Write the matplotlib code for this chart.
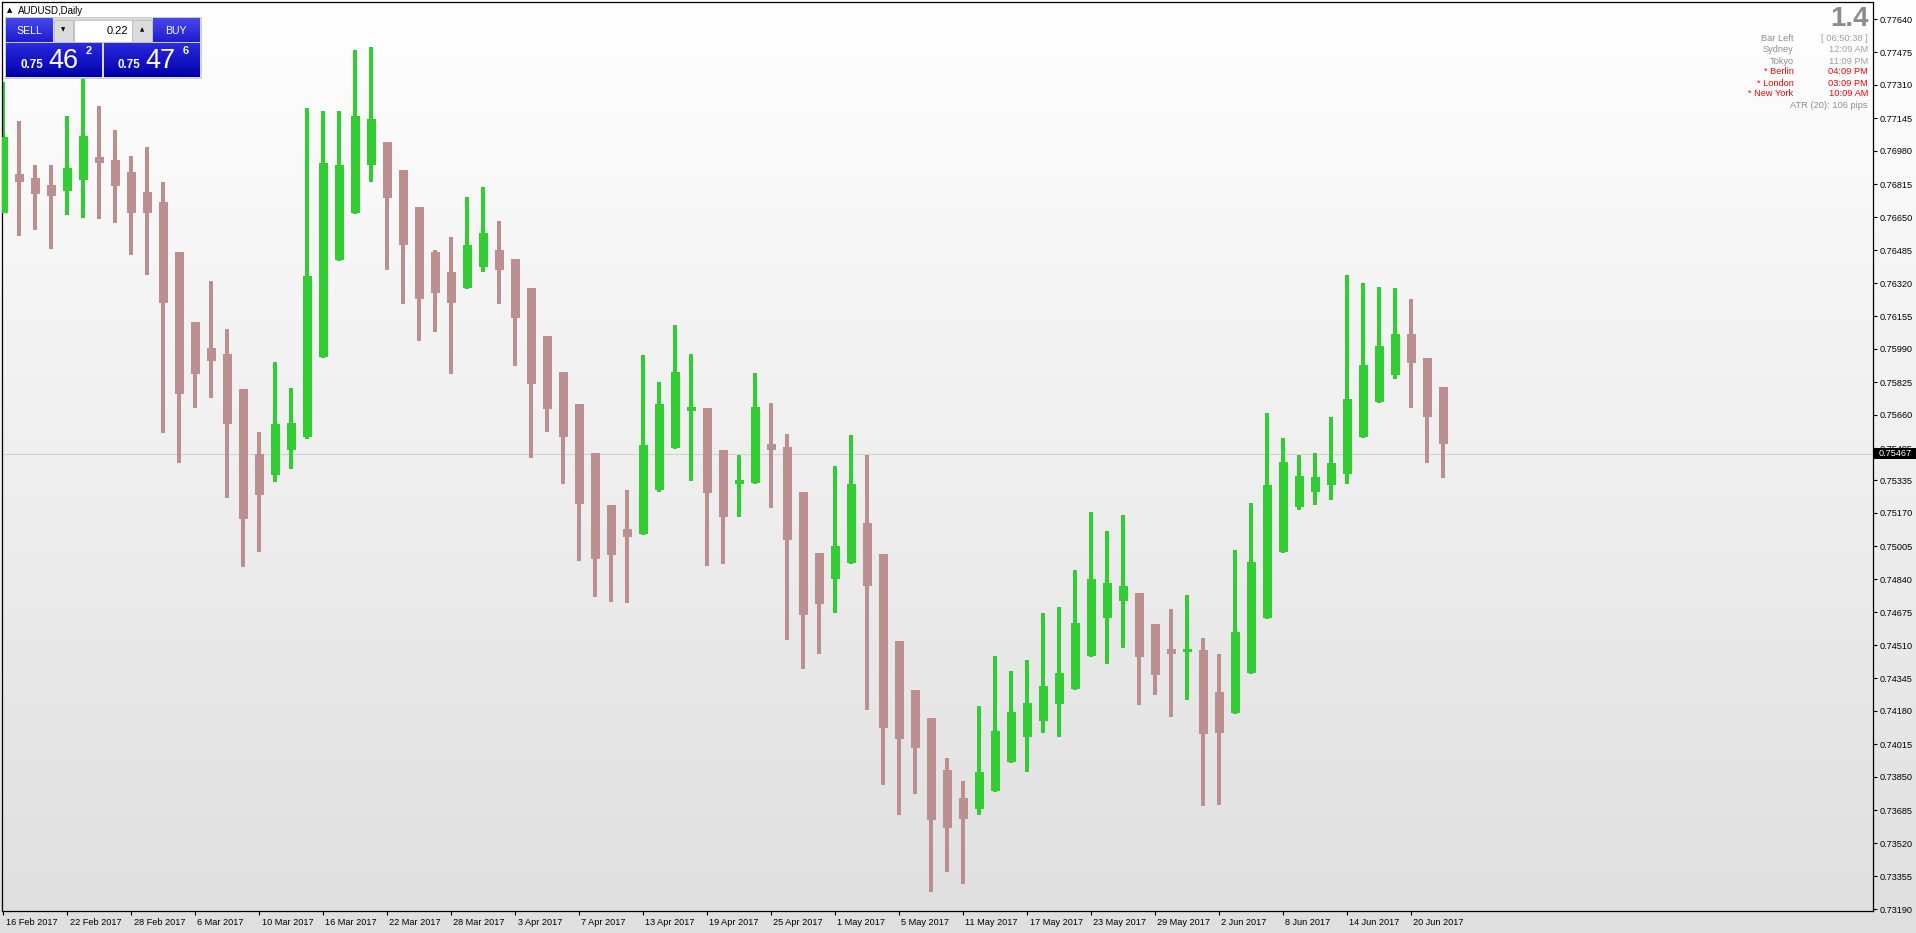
import numpy as np
import matplotlib
matplotlib.use("Agg")
import matplotlib.pyplot as plt
from matplotlib.patches import Rectangle
import matplotlib.transforms as mtransforms

# ---------------- data ----------------
symbol_title = "AUDUSD,Daily"

opens = [0.76670, 0.76865, 0.76845, 0.76810, 0.76780, 0.76835, 0.76950, 0.76935, 0.76875, 0.76775,
         0.76725, 0.76475, 0.76125, 0.75995, 0.75965, 0.75790, 0.75465, 0.75360, 0.75485, 0.75550,
         0.75950, 0.76435, 0.76670, 0.76910, 0.77025, 0.76885, 0.76700, 0.76475, 0.76375, 0.76295,
         0.76400, 0.76485, 0.76440, 0.76295, 0.76055, 0.75875, 0.75715, 0.75470, 0.75210, 0.75090,
         0.75065, 0.75285, 0.75495, 0.75680, 0.75695, 0.75485, 0.75315, 0.75320, 0.75515, 0.75500,
         0.75275, 0.74970, 0.74840, 0.74920, 0.75120, 0.74965, 0.74530, 0.74285, 0.74145, 0.73885,
         0.73745, 0.73690, 0.73780, 0.73925, 0.74050, 0.74130, 0.74215, 0.74290, 0.74455, 0.74645,
         0.74730, 0.74770, 0.74615, 0.74490, 0.74475, 0.74485, 0.74275, 0.74170, 0.74370, 0.74645,
         0.74975, 0.75200, 0.75275, 0.75310, 0.75365, 0.75550, 0.75725, 0.75860, 0.76065, 0.75945,
         0.75800]
highs = [0.77325, 0.77130, 0.76910, 0.76910, 0.77155, 0.77375, 0.77205, 0.77085, 0.76955, 0.77000,
         0.76825, 0.76475, 0.76125, 0.76330, 0.76090, 0.75790, 0.75575, 0.75925, 0.75795, 0.77195,
         0.77180, 0.77180, 0.77485, 0.77500, 0.77025, 0.76885, 0.76700, 0.76485, 0.76550, 0.76750,
         0.76800, 0.76630, 0.76440, 0.76295, 0.76055, 0.75875, 0.75715, 0.75470, 0.75210, 0.75285,
         0.75960, 0.75825, 0.76110, 0.75965, 0.75695, 0.75485, 0.75460, 0.75870, 0.75720, 0.75565,
         0.75275, 0.74970, 0.75405, 0.75560, 0.75460, 0.74965, 0.74530, 0.74285, 0.74145, 0.73945,
         0.73830, 0.74205, 0.74455, 0.74380, 0.74435, 0.74670, 0.74700, 0.74885, 0.75175, 0.75080,
         0.75160, 0.74770, 0.74615, 0.74690, 0.74760, 0.74545, 0.74465, 0.74985, 0.75220, 0.75670,
         0.75545, 0.75460, 0.75470, 0.75650, 0.76360, 0.76320, 0.76300, 0.76295, 0.76240, 0.75945,
         0.75800]
lows = [0.76670, 0.76555, 0.76585, 0.76490, 0.76660, 0.76645, 0.76640, 0.76620, 0.76460, 0.76360,
        0.75570, 0.75420, 0.75695, 0.75745, 0.75245, 0.74900, 0.74975, 0.75325, 0.75390, 0.75540,
        0.75945, 0.76430, 0.76665, 0.76825, 0.76385, 0.76215, 0.76030, 0.76075, 0.75865, 0.76290,
        0.76375, 0.76215, 0.75905, 0.75445, 0.75575, 0.75315, 0.74930, 0.74750, 0.74725, 0.74720,
        0.75060, 0.75275, 0.75490, 0.75330, 0.74905, 0.74915, 0.75150, 0.75315, 0.75195, 0.74535,
        0.74390, 0.74465, 0.74670, 0.74915, 0.74185, 0.73810, 0.73660, 0.73765, 0.73275, 0.73375,
        0.73315, 0.73660, 0.73775, 0.73920, 0.73875, 0.74070, 0.74050, 0.74285, 0.74450, 0.74415,
        0.74495, 0.74210, 0.74260, 0.74150, 0.74235, 0.73705, 0.73710, 0.74165, 0.74365, 0.74640,
        0.74970, 0.75185, 0.75210, 0.75235, 0.75315, 0.75545, 0.75720, 0.75840, 0.75695, 0.75420,
        0.75345]
closes = [0.77050, 0.76825, 0.76765, 0.76755, 0.76895, 0.77055, 0.76920, 0.76805, 0.76670, 0.76670,
          0.76220, 0.75765, 0.75865, 0.75930, 0.75615, 0.75140, 0.75260, 0.75615, 0.75620, 0.76355,
          0.76920, 0.76910, 0.77155, 0.77140, 0.76745, 0.76510, 0.76240, 0.76270, 0.76220, 0.76510,
          0.76570, 0.76385, 0.76145, 0.75815, 0.75690, 0.75550, 0.75215, 0.74940, 0.74960, 0.75050,
          0.75510, 0.75715, 0.75875, 0.75700, 0.75270, 0.75150, 0.75335, 0.75700, 0.75485, 0.75035,
          0.74660, 0.74715, 0.75005, 0.75315, 0.74805, 0.74095, 0.74040, 0.73995, 0.73635, 0.73595,
          0.73640, 0.73875, 0.74080, 0.74175, 0.74220, 0.74305, 0.74370, 0.74620, 0.74840, 0.74820,
          0.74805, 0.74450, 0.74360, 0.74465, 0.74490, 0.74065, 0.74070, 0.74575, 0.74925, 0.75310,
          0.75425, 0.75355, 0.75350, 0.75420, 0.75740, 0.75910, 0.76005, 0.76065, 0.75920, 0.75650,
          0.75515]

date_labels = ["16 Feb 2017", "22 Feb 2017", "28 Feb 2017", "6 Mar 2017", "10 Mar 2017",
               "16 Mar 2017", "22 Mar 2017", "28 Mar 2017", "3 Apr 2017", "7 Apr 2017",
               "13 Apr 2017", "19 Apr 2017", "25 Apr 2017", "1 May 2017", "5 May 2017",
               "11 May 2017", "17 May 2017", "23 May 2017", "29 May 2017", "2 Jun 2017",
               "8 Jun 2017", "14 Jun 2017", "20 Jun 2017"]
date_label_bars = [0, 4, 8, 12, 16, 20, 24, 28, 32, 36, 40, 44, 48, 52, 56, 60, 64, 68, 72, 76, 80, 84, 88]

price_ticks = [0.77640, 0.77475, 0.77310, 0.77145, 0.76980, 0.76815, 0.76650, 0.76485, 0.76320,
               0.76155, 0.75990, 0.75825, 0.75660, 0.75495, 0.75335, 0.75170, 0.75005, 0.74840,
               0.74675, 0.74510, 0.74345, 0.74180, 0.74015, 0.73850, 0.73685, 0.73520, 0.73355,
               0.73190]

bid_price = 0.75467
lot_value = "0.22"
sell_quote = ["0.75", "46", "2"]
buy_quote = ["0.75", "47", "6"]
info_big = "1.4"
info_labels = ["Bar Left", "Sydney", "Tokyo", "* Berlin", "* London", "* New York"]
info_values = ["[ 06:50:38 ]", "12:09 AM", "11:09 PM", "04:09 PM", "03:09 PM", "10:09 AM"]
info_red = [False, False, False, True, True, True]
atr_text = "ATR (20): 106 pips"

# ---------------- figure ----------------
W, H, DPI = 1916, 933, 100
BULL = "#32CD32"
BEAR = "#BC8F8F"
FONT = ["Liberation Sans", "DejaVu Sans"]
plt.rcParams["font.family"] = FONT

fig = plt.figure(figsize=(W / DPI, H / DPI), dpi=DPI)

# background gradient for whole window
ax_bg = fig.add_axes([0, 0, 1, 1], zorder=-5)
grad = np.linspace(255, 223, 256)[:, None] / 255.0
ax_bg.imshow(np.dstack([grad, grad, grad]), aspect="auto", extent=(0, 1, 0, 1), origin="upper")
ax_bg.set_xlim(0, 1)
ax_bg.set_ylim(0, 1)
ax_bg.axis("off")

# main chart axes (pixel box: x 2..1873, y 2..911)
L, R, T, B = 2, 1873, 2, 911
ax = fig.add_axes([L / W, (H - B) / H, (R - L) / W, (B - T) / H], zorder=1)
ax.patch.set_alpha(0)
PX = 16.0          # pixels per bar
X0 = 3.5           # pixel centre of first bar
ax.set_xlim((L - X0) / PX, (R - X0) / PX)
PPX = 0.00005      # price per pixel
top_price = 0.77725
ax.set_ylim(top_price - (B - T) * PPX, top_price)

# bid line
ax.axhline(bid_price, color="#D2D2D2", lw=0.8, zorder=1)

body_w = 9.0 / PX
for i, (o, h, l, c) in enumerate(zip(opens, highs, lows, closes)):
    col = BULL if c > o else BEAR
    ax.vlines(i, l, h, color=col, lw=1.5, zorder=2, antialiased=False)
    lo_ = min(o, c)
    hgt = max(abs(c - o), PPX)
    ax.add_patch(Rectangle((i - body_w / 2, lo_), body_w, hgt, facecolor=col,
                           edgecolor="none", zorder=3, antialiased=False))

for s in ax.spines.values():
    s.set_color("black")
    s.set_linewidth(0.9)

ax.yaxis.tick_right()
ax.set_yticks(price_ticks)
ax.set_yticklabels([f"{p:.5f}" for p in price_ticks])
ax.tick_params(axis="y", direction="out", length=3, width=0.8, pad=1.5,
               labelsize=6.6, colors="black")
ax.set_xticks(date_label_bars)
ax.set_xticklabels(date_labels)
ax.tick_params(axis="x", direction="out", length=3, width=0.8, pad=1.8,
               labelsize=6.6, colors="black")
offset = mtransforms.ScaledTranslation(2 / DPI, 0, fig.dpi_scale_trans)
for lab in ax.get_xticklabels():
    lab.set_horizontalalignment("left")
    lab.set_transform(lab.get_transform() + offset)

# ---------------- overlay (pixel coordinates) ----------------
ov = fig.add_axes([0, 0, 1, 1], zorder=10)
ov.patch.set_alpha(0)


def vgrad(x0, y0, x1, y1, ctop, cbot):
    ctop = np.array(matplotlib.colors.to_rgb(ctop))
    cbot = np.array(matplotlib.colors.to_rgb(cbot))
    t = np.linspace(0, 1, 64)[:, None]
    img = (ctop[None, :] * (1 - t) + cbot[None, :] * t)[:, None, :]
    ov.imshow(img, extent=(x0, x1, y1, y0), origin="upper", aspect="auto",
              interpolation="bilinear", zorder=2)


# title
ov.text(6.5, 10.5, "\u25B2", fontsize=5, color="black", va="center", ha="left",
        family=["DejaVu Sans"])
ov.text(18, 10.5, symbol_title, fontsize=7, color="black", va="center", ha="left")

# one-click trading panel
ov.add_patch(Rectangle((5, 17), 196, 61, facecolor="#D9D9D9", edgecolor="#C8C8C8", lw=0.6, zorder=1))
vgrad(6, 19, 52.5, 42.5, "#4848EE", "#1C1CD0")
vgrad(153, 19, 199.5, 42.5, "#4848EE", "#1C1CD0")
vgrad(6, 43, 102, 77, "#2A2AE0", "#0000A8")
vgrad(104, 43, 199.5, 77, "#2A2AE0", "#0000A8")
ov.add_patch(Rectangle((54, 20), 19.5, 21.5, facecolor="#DCDCDC", edgecolor="#BDBDBD", lw=0.6, zorder=3))
ov.add_patch(Rectangle((74, 20), 58, 21.5, facecolor="white", edgecolor="#BDBDBD", lw=0.6, zorder=3))
ov.add_patch(Rectangle((132, 20), 20, 21.5, facecolor="#DCDCDC", edgecolor="#BDBDBD", lw=0.6, zorder=3))
ov.text(63.5, 29.5, "\u25BC", fontsize=4, color="black", ha="center", va="center",
        family=["DejaVu Sans"], zorder=4)
ov.text(142, 29.5, "\u25B2", fontsize=4, color="black", ha="center", va="center",
        family=["DejaVu Sans"], zorder=4)
ov.text(128, 30.5, lot_value, fontsize=8, color="black", ha="right", va="center", zorder=4)
ov.text(29, 31, "SELL", fontsize=7.6, color="white", ha="center", va="center", zorder=4)
ov.text(175.5, 31, "BUY", fontsize=7.6, color="white", ha="center", va="center", zorder=4)
ov.plot([10, 48], [41.5, 41.5], color="#C8C8FF", lw=0.7, zorder=4)
ov.plot([157, 195], [41.5, 41.5], color="#C8C8FF", lw=0.7, zorder=4)

for (x_small, x_big, x_sup), q in zip([(20.5, 48.5, 85.5), (118, 145.5, 182.5)], [sell_quote, buy_quote]):
    ov.text(x_small, 65.5, q[0], fontsize=8.4, fontweight="bold", color="white",
            ha="left", va="center", zorder=4)
    ov.text(x_big, 60.5, q[1], fontsize=19.5, color="white", ha="left", va="center", zorder=4)
    ov.text(x_sup, 51, q[2], fontsize=7.8, fontweight="bold", color="white",
            ha="left", va="center", zorder=4)

# info block top right
ov.text(1868.5, 18.5, info_big, fontsize=20, fontweight="bold", color="#8C8C8C",
        ha="right", va="center")
ys = [38.7, 50.0, 61.0, 72.0, 83.0, 94.0]
for y, lab, val, red in zip(ys, info_labels, info_values, info_red):
    c1 = "#FF0000" if red else "#8E8E8E"
    c2 = "#FF0000" if red else "#A0A0A0"
    ov.text(1793.5, y, lab, fontsize=6.7, color=c1, ha="right", va="center")
    ov.text(1868, y, val, fontsize=6.7, color=c2, ha="right", va="center")
ov.text(1868, 105, atr_text, fontsize=6.7, color="#8E8E8E", ha="right", va="center")

# bid price label on the axis
ov.add_patch(Rectangle((1874.5, 447.5), 41.5, 11.5, facecolor="black", edgecolor="none", zorder=3))
ov.text(1879, 453.3, f"{bid_price:.5f}", fontsize=6.6, color="white", ha="left",
        va="center", zorder=4)

ov.set_xlim(0, W)
ov.set_ylim(H, 0)
ov.axis("off")

fig.savefig("out.png", dpi=DPI)
